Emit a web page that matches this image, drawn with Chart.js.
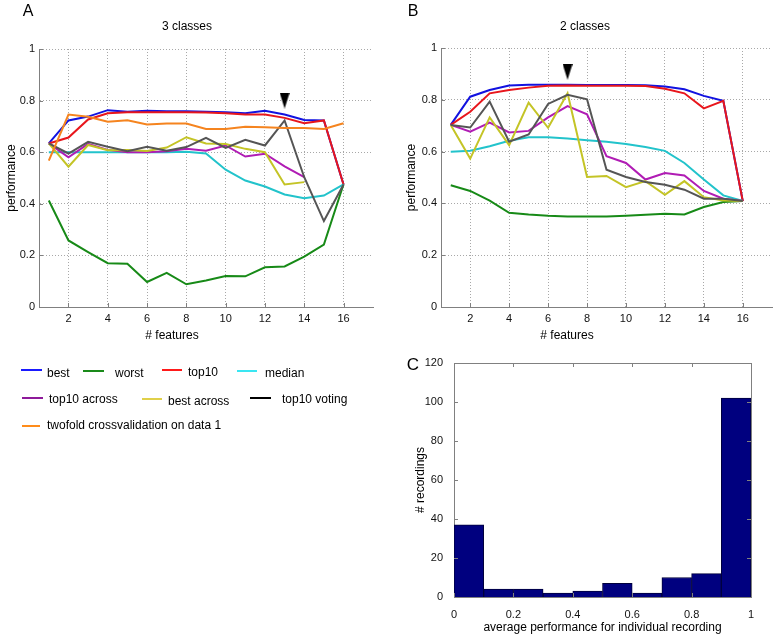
<!DOCTYPE html>
<html>
<head>
<meta charset="utf-8">
<script src="https://cdn.jsdelivr.net/npm/chart.js@4.4.1/dist/chart.umd.min.js"></script>
<style>
  body { margin: 0; background: #fff; }
  #fig { position: relative; width: 778px; height: 639px; overflow: hidden;
         font-family: "Liberation Sans", Arial, Helvetica, sans-serif; color: #000; }
  #fig canvas { position: absolute; }
  .txt { position: absolute; white-space: nowrap; font-size: 12px; line-height: 14px; }
  .key { position: absolute; height: 2px; }
</style>
</head>
<body>
<div id="fig">
  <canvas id="chartA" width="386" height="346" style="left:0px;top:0px"></canvas>
  <canvas id="chartB" width="378" height="346" style="left:400px;top:0px"></canvas>
  <canvas id="chartC" width="356" height="289" style="left:409px;top:350px"></canvas>
</div>
<script>
// ---- data ----
const features = [1, 2, 3, 4, 5, 6, 7, 8, 9, 10, 11, 12, 13, 14, 15, 16];
const featureTicks = [2, 4, 6, 8, 10, 12, 14, 16];

const seriesNames = ['best', 'worst', 'top10', 'median', 'top10 across', 'best across',
                     'top10 voting', 'twofold crossvalidation on data 1'];

// panel A: 3 classes
const bestA      = [0.634, 0.723, 0.738, 0.763, 0.757, 0.761, 0.759, 0.759, 0.757, 0.755, 0.751, 0.761, 0.746, 0.725, 0.723, 0.475];
const worstA     = [0.413, 0.258, 0.213, 0.170, 0.168, 0.097, 0.132, 0.088, 0.103, 0.120, 0.119, 0.154, 0.157, 0.195, 0.242, 0.476];
const top10A     = [0.634, 0.657, 0.727, 0.751, 0.755, 0.755, 0.755, 0.755, 0.754, 0.751, 0.746, 0.746, 0.733, 0.712, 0.723, 0.475];
const medianA    = [0.600, 0.600, 0.600, 0.600, 0.600, 0.600, 0.600, 0.602, 0.595, 0.532, 0.490, 0.467, 0.436, 0.422, 0.432, 0.475];
const acrossA    = [0.634, 0.580, 0.632, 0.609, 0.600, 0.600, 0.604, 0.613, 0.606, 0.626, 0.583, 0.594, 0.545, 0.503];
const bestAcrA   = [0.634, 0.544, 0.628, 0.608, 0.609, 0.605, 0.618, 0.658, 0.634, 0.632, 0.613, 0.600, 0.475, 0.484];
const votingA    = [0.634, 0.595, 0.640, 0.621, 0.604, 0.621, 0.606, 0.620, 0.656, 0.617, 0.648, 0.626, 0.723, 0.503, 0.333, 0.475];
const twofoldA   = [0.567, 0.746, 0.737, 0.718, 0.724, 0.707, 0.711, 0.711, 0.690, 0.690, 0.699, 0.697, 0.694, 0.694, 0.690, 0.712];
const markerA    = [{ x: 13, y: 0.80 }];

// panel B: 2 classes
const bestB      = [0.703, 0.812, 0.838, 0.855, 0.858, 0.858, 0.858, 0.857, 0.857, 0.857, 0.856, 0.851, 0.841, 0.815, 0.796, 0.409];
const worstB     = [0.470, 0.448, 0.411, 0.364, 0.357, 0.352, 0.349, 0.349, 0.349, 0.352, 0.356, 0.360, 0.357, 0.386, 0.405, 0.409];
const top10B     = [0.703, 0.754, 0.825, 0.838, 0.847, 0.854, 0.855, 0.854, 0.854, 0.854, 0.853, 0.843, 0.825, 0.767, 0.796, 0.409];
const medianB    = [0.599, 0.603, 0.621, 0.642, 0.655, 0.655, 0.651, 0.644, 0.638, 0.629, 0.618, 0.603, 0.556, 0.492, 0.431, 0.409];
const acrossB    = [0.703, 0.677, 0.712, 0.674, 0.680, 0.732, 0.776, 0.744, 0.582, 0.556, 0.492, 0.517, 0.508, 0.448, 0.418, 0.409];
const bestAcrB   = [0.703, 0.573, 0.732, 0.625, 0.789, 0.692, 0.825, 0.502, 0.506, 0.463, 0.486, 0.433, 0.486, 0.424, 0.411, 0.409];
const votingB    = [0.703, 0.693, 0.793, 0.638, 0.666, 0.784, 0.819, 0.802, 0.530, 0.502, 0.483, 0.472, 0.453, 0.418, 0.418, 0.409];
const markerB    = [{ x: 7, y: 0.908 }];

// panel C: histogram
const binCenters = [0.05, 0.15, 0.25, 0.35, 0.45, 0.55, 0.65, 0.75, 0.85, 0.95];
const counts     = [37, 4, 4, 2, 3, 7, 2, 10, 12, 102];

// ---- styles ----
const lineColors = ['#1212e0', '#178a17', '#e8161c', '#22c3cb', '#b01cb4', '#c4c426', '#555555', '#f5841f'];
const keyColors  = ['#1a1aff', '#1a8a1a', '#ff1a1a', '#3ae6f2', '#8e1a9a', '#e0d04a', '#000000', '#ff8c1a'];
const axisColor = '#808080';
const gridColor = '#a8a8a8';
const tickFont = { family: '"Liberation Sans", Arial, sans-serif', size: 11 };
const titleFont = { family: '"Liberation Sans", Arial, sans-serif', size: 12 };
const plainNum = v => String(Math.round(v * 10) / 10);   // 1, 0.8, ... 0  (no trailing .0)

// narrow downward triangle used as the "selected" marker
const tri = document.createElement('canvas');
tri.width = 10; tri.height = 16;
(function() {
  const c = tri.getContext('2d');
  c.fillStyle = '#000';
  c.beginPath(); c.moveTo(0, 0); c.lineTo(10, 0); c.lineTo(5, 16); c.closePath(); c.fill();
})();

// matlab style inward tick marks (+ optional full box)
const inTicks = {
  id: 'inTicks',
  afterDraw(chart, args, opts) {
    const { ctx, chartArea: a, scales: { x, y } } = chart;
    const len = 4;
    ctx.save();
    ctx.strokeStyle = axisColor;
    ctx.lineWidth = 1;
    ctx.beginPath();
    x.ticks.forEach(t => {
      const px = Math.round(x.getPixelForValue(t.value)) + 0.5;
      ctx.moveTo(px, a.bottom); ctx.lineTo(px, a.bottom - len);
      if (opts.box) { ctx.moveTo(px, a.top); ctx.lineTo(px, a.top + len); }
    });
    y.ticks.forEach(t => {
      const py = Math.round(y.getPixelForValue(t.value)) + 0.5;
      ctx.moveTo(a.left, py); ctx.lineTo(a.left + len, py);
      if (opts.box) { ctx.moveTo(a.right, py); ctx.lineTo(a.right - len, py); }
    });
    if (opts.box) {
      ctx.moveTo(a.left, Math.round(a.top) + 0.5); ctx.lineTo(a.right, Math.round(a.top) + 0.5);
      ctx.moveTo(Math.round(a.right) + 0.5, a.top); ctx.lineTo(Math.round(a.right) + 0.5, a.bottom);
    }
    ctx.stroke();
    ctx.restore();
  }
};

function makeSets(valueLists, marker) {
  const sets = [];
  valueLists.forEach((vals, i) => {
    if (!vals) return;
    sets.push({
      label: seriesNames[i],
      data: vals.map((v, k) => ({ x: features[k], y: v })),
      borderColor: lineColors[i],
      borderWidth: 2,
      pointRadius: 0,
      tension: 0,
      fill: false,
      order: -i
    });
  });
  sets.push({
    label: 'selected',
    data: marker,
    showLine: false,
    pointStyle: tri,
    pointRadius: 5,
    order: -100
  });
  return sets;
}

function perfOptions(yWidth, padTop, padRight) {
  return {
    responsive: false,
    animation: false,
    layout: { padding: { top: padTop, right: padRight, left: 0, bottom: 0 } },
    plugins: { legend: { display: false }, tooltip: { enabled: false }, inTicks: { box: false } },
    scales: {
      x: {
        type: 'linear', min: 0.5, max: 17.5,
        afterBuildTicks: s => { s.ticks = featureTicks.map(v => ({ value: v })); },
        afterFit: s => { s.height = 39; },
        grid: { color: gridColor, drawTicks: false },
        border: { color: axisColor, width: 1, dash: [1, 2] },
        ticks: { color: '#111', font: tickFont, padding: 5, maxRotation: 0 }
      },
      y: {
        min: 0, max: 1,
        afterFit: s => { s.width = yWidth; },
        grid: { color: gridColor, drawTicks: false },
        border: { color: axisColor, width: 1, dash: [1, 2] },
        ticks: { stepSize: 0.2, color: '#111', font: tickFont, padding: 4, callback: plainNum },
        title: { display: true, text: 'performance', color: '#000', font: titleFont, padding: { top: 4, bottom: 4 } }
      }
    }
  };
}

new Chart(document.getElementById('chartA'), {
  type: 'line',
  data: { datasets: makeSets([bestA, worstA, top10A, medianA, acrossA, bestAcrA, votingA, twofoldA], markerA) },
  options: perfOptions(39, 49, 13),
  plugins: [inTicks]
});

new Chart(document.getElementById('chartB'), {
  type: 'line',
  data: { datasets: makeSets([bestB, worstB, top10B, medianB, acrossB, bestAcrB, votingB, null], markerB) },
  options: perfOptions(41, 48, 4),
  plugins: [inTicks]
});

new Chart(document.getElementById('chartC'), {
  type: 'bar',
  data: {
    datasets: [{
      label: '# recordings',
      data: binCenters.map((c, i) => ({ x: c, y: counts[i] })),
      backgroundColor: '#00007f',
      borderColor: '#00003c',
      borderWidth: 1,
      barPercentage: 1,
      categoryPercentage: 1
    }]
  },
  options: {
    responsive: false,
    animation: false,
    layout: { padding: { top: 13, right: 14, left: 0, bottom: 0 } },
    plugins: { legend: { display: false }, tooltip: { enabled: false }, inTicks: { box: true } },
    scales: {
      x: {
        type: 'linear', min: 0, max: 1, offset: false,
        afterFit: s => { s.height = 42; },
        grid: { display: false, offset: false },
        border: { color: axisColor, width: 1 },
        ticks: { stepSize: 0.2, color: '#111', font: tickFont, padding: 3, maxRotation: 0, callback: plainNum },
        title: { display: true, text: 'average performance for individual recording', color: '#000', font: titleFont, padding: { top: 4, bottom: 4 } }
      },
      y: {
        min: 0, max: 120,
        afterFit: s => { s.width = 45; },
        grid: { display: false },
        border: { color: axisColor, width: 1 },
        ticks: { stepSize: 20, color: '#111', font: tickFont, padding: 3 },
        title: { display: true, text: '# recordings', color: '#000', font: titleFont, padding: { top: 4, bottom: 4 } }
      }
    }
  },
  plugins: [inTicks]
});

// ---- html text: panel letters, titles, x titles, legend ----
const fig = document.getElementById('fig');
function addText(str, x, y, size, centered) {
  const d = document.createElement('div');
  d.className = 'txt';
  d.textContent = str;
  d.style.left = x + 'px';
  d.style.top = y + 'px';
  d.style.fontSize = size + 'px';
  d.style.transform = centered ? 'translate(-50%, -50%)' : 'translateY(-50%)';
  fig.appendChild(d);
}
function addKey(color, x0, x1, y) {
  const k = document.createElement('div');
  k.className = 'key';
  k.style.left = x0 + 'px';
  k.style.width = (x1 - x0) + 'px';
  k.style.top = (y - 1) + 'px';
  k.style.background = color;
  fig.appendChild(k);
}

addText('A', 28, 10.5, 16, true);
addText('B', 413, 10.5, 16, true);
addText('C', 413, 364.5, 17, true);
addText('3 classes', 187, 26, 12, true);
addText('2 classes', 585, 26, 12, true);
addText('# features', 172, 335, 12, true);
addText('# features', 567, 335, 12, true);

// legend: [series index, line x0, line x1, line y, text x, text y]
const keyLayout = [
  [0, 21, 42, 369.5, 47, 372.5],
  [1, 83, 104, 370.5, 115, 372.5],
  [2, 162, 182, 369.5, 188, 371.5],
  [3, 237, 257, 370.5, 265, 372.5],
  [4, 22, 43, 397.5, 49, 398.5],
  [5, 142, 162, 398.5, 168, 401],
  [6, 250, 271, 398, 282, 398.5],
  [7, 22, 40, 425.5, 47, 425]
];
keyLayout.forEach(([i, x0, x1, ly, tx, ty]) => {
  addKey(keyColors[i], x0, x1, ly);
  addText(seriesNames[i], tx, ty, 12, false);
});
</script>
</body>
</html>
